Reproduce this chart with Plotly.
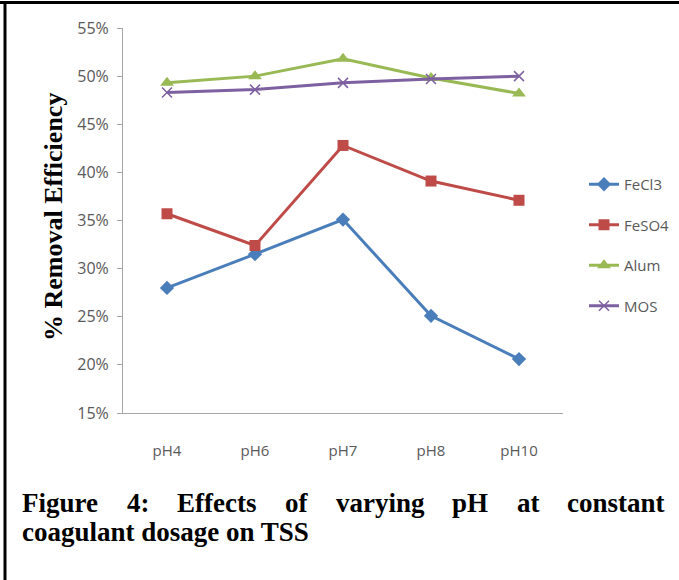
import plotly.graph_objects as go

categories = ["pH4", "pH6", "pH7", "pH8", "pH10"]
fecl3 = [0.280, 0.315, 0.351, 0.251, 0.206]
feso4 = [0.357, 0.324, 0.428, 0.391, 0.371]
alum = [0.493, 0.500, 0.518, 0.498, 0.482]
mos = [0.483, 0.486, 0.493, 0.497, 0.500]

series_names = ["FeCl3", "FeSO4", "Alum", "MOS"]
y_ticks = [0.15, 0.20, 0.25, 0.30, 0.35, 0.40, 0.45, 0.50, 0.55]
caption_line1 = ["Figure", "4:", "Effects", "of", "varying", "pH", "at", "constant"]
caption_line2 = "coagulant dosage on TSS"

W, H = 679, 580
L, R, T, B = 123, 563, 28, 413  # plot area in pixels

def px(x):
    return (x - L) / (R - L)

def py(y):
    return (B - y) / (B - T)

styles = [
    dict(color="#4A7EBB", symbol="diamond", size=11),
    dict(color="#BE4B48", symbol="square", size=11),
    dict(color="#98B954", symbol="triangle-up", size=12),
    dict(color="#7D60A0", symbol="x-thin", size=10),
]

fig = go.Figure()
for name, vals, st in zip(series_names, [fecl3, feso4, alum, mos], styles):
    marker = dict(symbol=st["symbol"], size=st["size"], color=st["color"])
    if st["symbol"] == "x-thin":
        marker["line"] = dict(color=st["color"], width=1.5)
    fig.add_trace(go.Scatter(
        x=categories, y=vals, name=name, mode="lines+markers",
        line=dict(color=st["color"], width=3),
        marker=marker, legendgroup=name,
    ))

sans = "Open Sans, Liberation Sans, sans-serif"
serif = "Liberation Serif, Times New Roman, serif"

fig.update_layout(
    width=W, height=H,
    margin=dict(l=L, r=W - R, t=T, b=H - B, autoexpand=False),
    paper_bgcolor="white", plot_bgcolor="white",
    showlegend=True,
    legend=dict(
        x=px(584), y=py(168), xanchor="left", yanchor="top",
        font=dict(family=sans, size=15, color="#595959"),
        tracegroupgap=18, bgcolor="rgba(0,0,0,0)", itemwidth=30,
    ),
    xaxis=dict(
        type="category", range=[-0.5, 4.5], showline=True, linecolor="#A6A6A6", linewidth=1,
        showgrid=False, ticks="", tickfont=dict(family=sans, size=15, color="#595959"),
        ticklabelstandoff=24,
    ),
    yaxis=dict(
        range=[0.15, 0.55], tickvals=y_ticks, tickformat=".0%", showline=True,
        linecolor="#A6A6A6", linewidth=1, showgrid=False, zeroline=False,
        ticks="outside", ticklen=5, tickcolor="#A6A6A6",
        tickfont=dict(family=sans, size=16, color="#595959"), ticklabelstandoff=5,
    ),
)

# y-axis title
fig.add_annotation(
    x=px(53), y=py(217), xref="paper", yref="paper", showarrow=False,
    xanchor="center", yanchor="middle",
    text="<b>% Removal Efficiency</b>", textangle=-90,
    font=dict(family=serif, size=26, color="black"),
)

# caption line 1 (justified word by word)
word_x = [20, 125, 175, 283, 334, 450, 515, 565]
for w, x in zip(caption_line1, word_x):
    fig.add_annotation(
        x=px(x), y=py(503), xref="paper", yref="paper", showarrow=False,
        xanchor="left", yanchor="middle", text=f"<b>{w}</b>",
        font=dict(family=serif, size=27, color="black"),
    )
fig.add_annotation(
    x=px(20), y=py(532), xref="paper", yref="paper", showarrow=False,
    xanchor="left", yanchor="middle", text=f"<b>{caption_line2}</b>",
    font=dict(family=serif, size=27, color="black"),
)

# figure frame: top and left borders
fig.add_shape(type="rect", xref="paper", yref="paper",
              x0=px(0), x1=px(W), y0=py(1), y1=py(4),
              fillcolor="black", line=dict(width=0))
fig.add_shape(type="rect", xref="paper", yref="paper",
              x0=px(3.5), x1=px(6.5), y0=py(1), y1=py(H),
              fillcolor="black", line=dict(width=0))

fig.write_html("out.html", config={"displayModeBar": False})
